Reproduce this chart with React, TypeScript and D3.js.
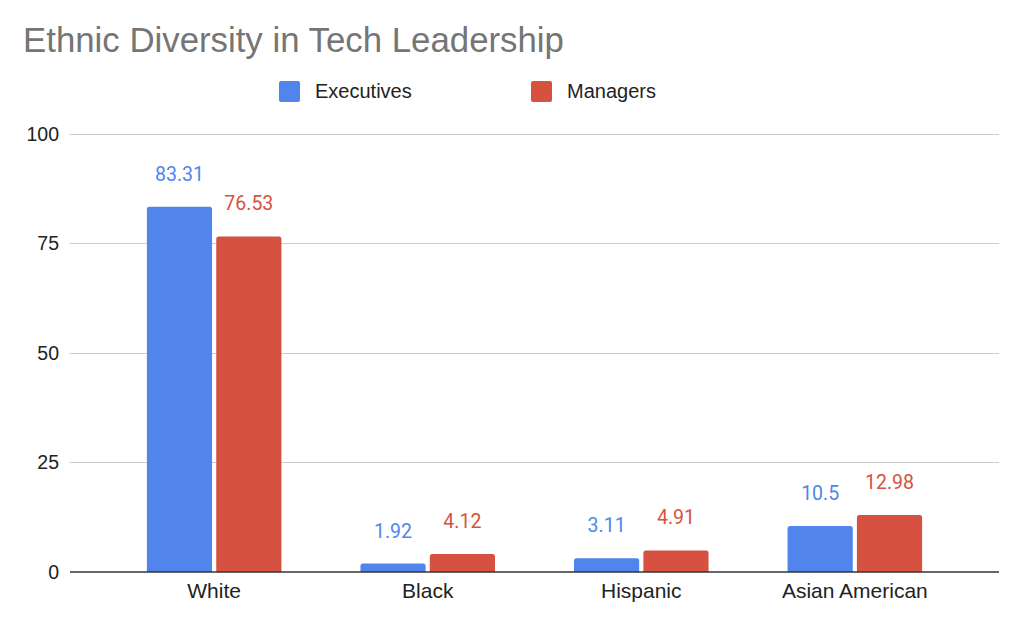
import { useRef, useEffect } from 'react'
import * as d3 from 'd3'

const categories = ['White', 'Black', 'Hispanic', 'Asian American']
const seriesNames = ['Executives', 'Managers']
const executives = [83.31, 1.92, 3.11, 10.5]
const managers = [76.53, 4.12, 4.91, 12.98]
const yTicks = [0, 25, 50, 75, 100]
const colors = ['#5185ec', '#d75141']

const W = 1024
const H = 627

// bar with rounded top corners only
function barPath(x: number, y: number, w: number, h: number, r: number) {
  const rr = Math.min(r, h, w / 2)
  return `M${x},${y + h}V${y + rr}Q${x},${y} ${x + rr},${y}H${x + w - rr}Q${x + w},${y} ${x + w},${y + rr}V${y + h}Z`
}

export default function App() {
  const svgRef = useRef<SVGSVGElement>(null)

  useEffect(() => {
    if (!svgRef.current) return
    const svg = d3.select(svgRef.current)
    svg.selectAll('*').remove()

    const sans = '"Liberation Sans", Arial, Helvetica, sans-serif'
    const values = [executives, managers]

    const x0 = d3.scaleBand<string>()
      .domain(categories)
      .range([70, 999])
      .paddingInner(0.37)
      .paddingOuter(0.36)

    const x1 = d3.scaleBand<string>()
      .domain(seriesNames)
      .range([0, x0.bandwidth()])
      .paddingInner(0.06)

    const y = d3.scaleLinear().domain([0, 100]).range([572, 133.5])

    // Title
    svg.append('text')
      .attr('x', 23)
      .attr('y', 52)
      .style('font-family', sans)
      .style('font-size', '34.8px')
      .style('fill', '#757575')
      .text('Ethnic Diversity in Tech Leadership')

    // Legend
    const legendX = [279, 531]
    seriesNames.forEach((name, i) => {
      svg.append('rect')
        .attr('x', legendX[i])
        .attr('y', 81)
        .attr('width', 21)
        .attr('height', 21)
        .attr('rx', 2)
        .style('fill', colors[i])
      svg.append('text')
        .attr('x', legendX[i] + 36)
        .attr('y', 97.5)
        .style('font-family', sans)
        .style('font-size', '20px')
        .style('fill', '#222')
        .text(name)
    })

    // Gridlines + y labels
    const grid = svg.append('g')
    grid.selectAll('line')
      .data(yTicks.filter(t => t > 0))
      .enter()
      .append('line')
      .attr('x1', 70)
      .attr('x2', 999)
      .attr('y1', d => Math.round(y(d)) + 0.5)
      .attr('y2', d => Math.round(y(d)) + 0.5)
      .style('stroke', '#cccccc')
      .style('stroke-width', 1)

    grid.selectAll('text')
      .data(yTicks)
      .enter()
      .append('text')
      .attr('x', 59)
      .attr('y', d => y(d) + 7)
      .attr('text-anchor', 'end')
      .style('font-family', sans)
      .style('font-size', '19.5px')
      .style('fill', '#222')
      .text(d => d)

    // Bars
    const groups = svg.append('g')
      .selectAll('g')
      .data(categories)
      .enter()
      .append('g')
      .attr('transform', d => `translate(${x0(d)},0)`)

    seriesNames.forEach((name, si) => {
      groups.append('path')
        .attr('d', (_, ci) => {
          const v = values[si][ci]
          return barPath(x1(name)!, y(v), x1.bandwidth(), y(0) - y(v), 2.5)
        })
        .style('fill', colors[si])

      groups.append('text')
        .attr('x', x1(name)! + x1.bandwidth() / 2)
        .attr('y', (_, ci) => y(values[si][ci]) - 26)
        .attr('text-anchor', 'middle')
        .style('font-family', 'Roboto, sans-serif')
        .style('font-size', '19.5px')
        .style('fill', colors[si])
        .text((_, ci) => values[si][ci])
    })

    // Baseline
    svg.append('line')
      .attr('x1', 70)
      .attr('x2', 999)
      .attr('y1', y(0))
      .attr('y2', y(0))
      .style('stroke', '#333')
      .style('stroke-width', 1.5)

    // Category labels
    svg.append('g')
      .selectAll('text')
      .data(categories)
      .enter()
      .append('text')
      .attr('x', d => x0(d)! + x0.bandwidth() / 2)
      .attr('y', 598)
      .attr('text-anchor', 'middle')
      .style('font-family', sans)
      .style('font-size', '21px')
      .style('fill', '#222')
      .text(d => d)
  }, [])

  return (
    <svg
      ref={svgRef}
      width={W}
      height={H}
      style={{ position: 'absolute', left: 0, top: 0, background: '#fff' }}
    />
  )
}
